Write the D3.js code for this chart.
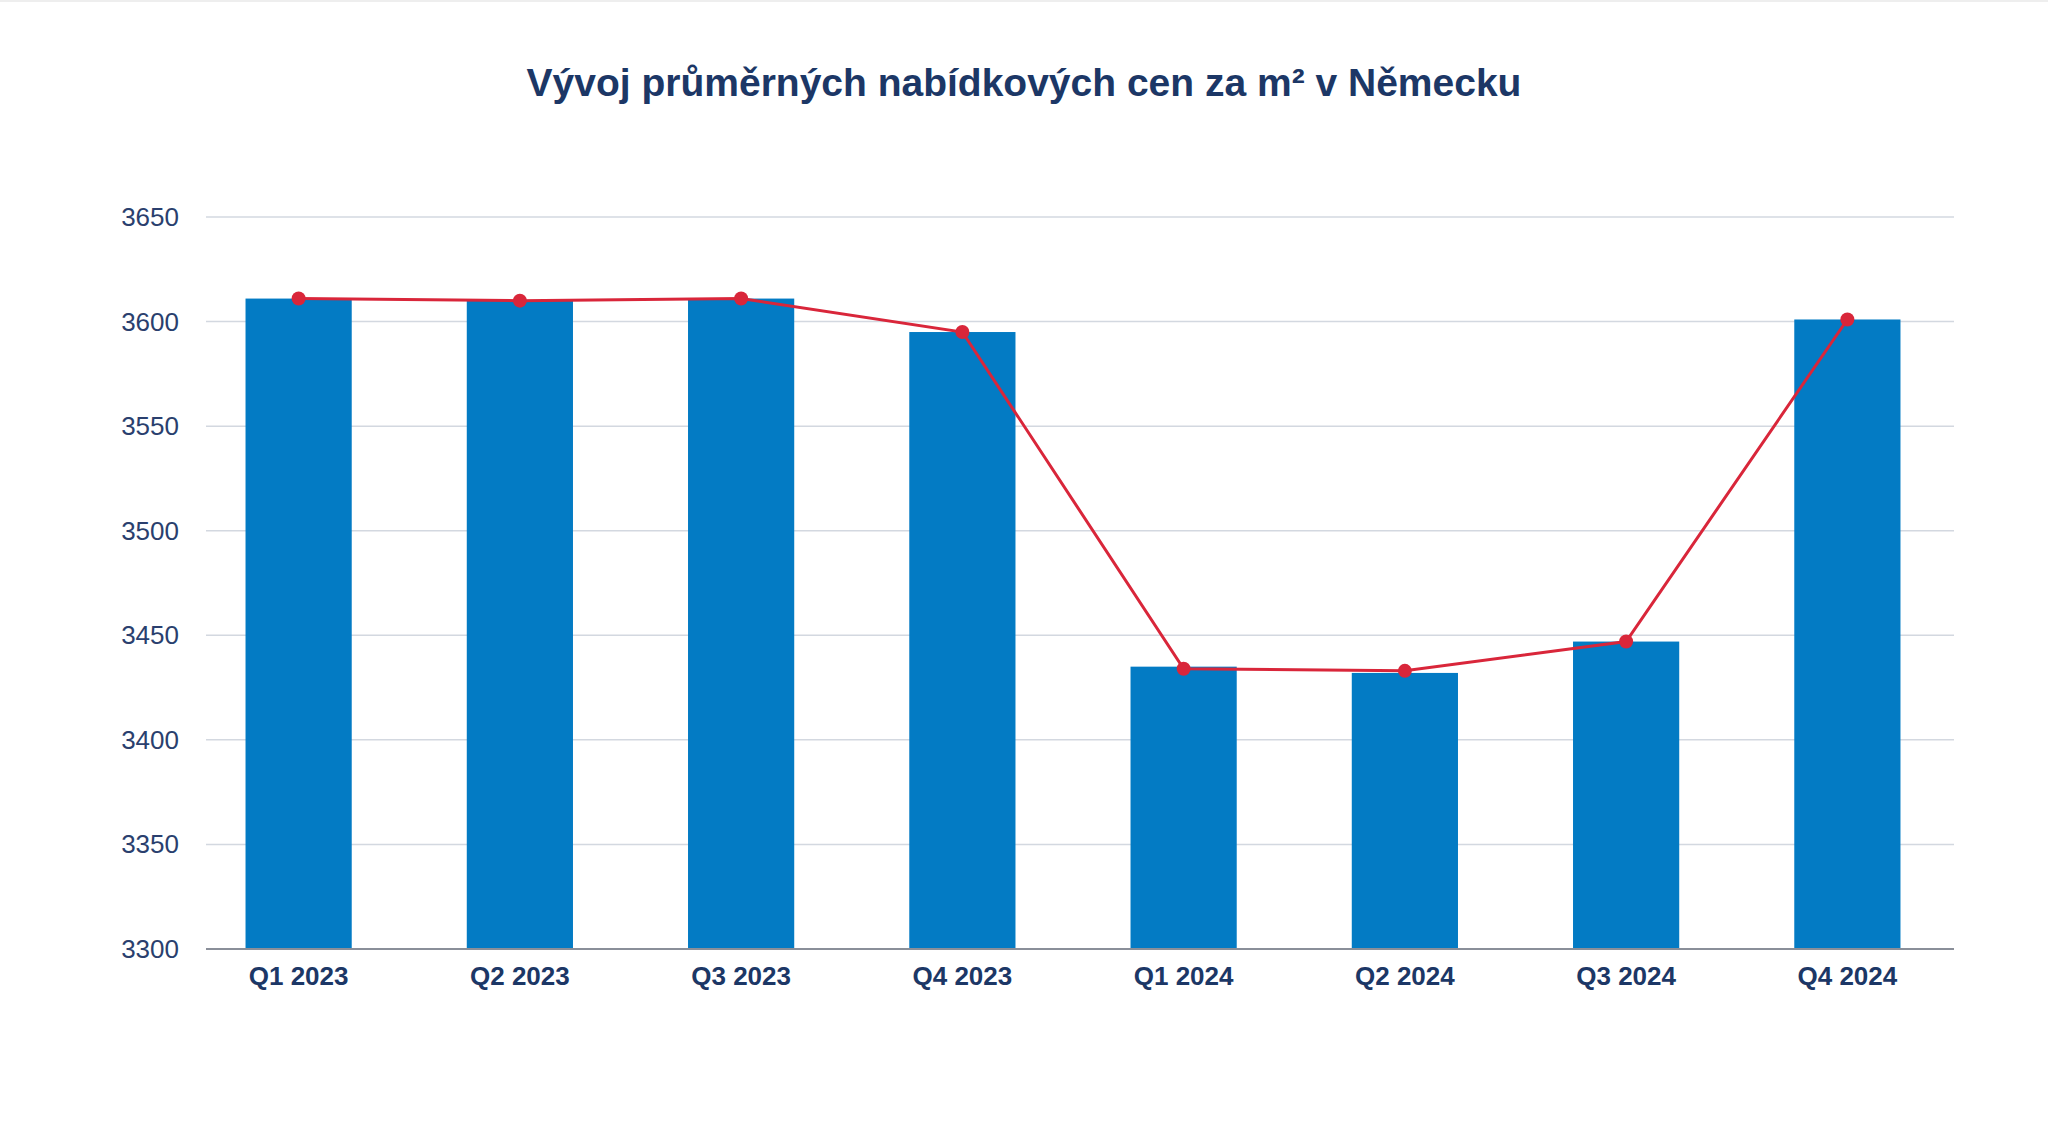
<!DOCTYPE html>
<html><head><meta charset="utf-8">
<script src="https://cdn.jsdelivr.net/npm/d3@7"></script>
<style>body{margin:0;background:#fff}svg{display:block}</style>
</head><body>
<svg id="c" width="2048" height="1144"></svg>
<script>
const categories=["Q1 2023","Q2 2023","Q3 2023","Q4 2023","Q1 2024","Q2 2024","Q3 2024","Q4 2024"];
const barValues=[3611,3610,3611,3595,3435,3432,3447,3601];
const lineValues=[3611,3610,3611,3595,3434,3433,3447,3601];
const yTicks=[3300,3350,3400,3450,3500,3550,3600,3650];
const title="Vývoj průměrných nabídkových cen za m² v Německu";

const svg=d3.select("#c");
const font="Helvetica, Arial, 'Liberation Sans', sans-serif";
svg.append("rect").attr("width",2048).attr("height",1144).attr("fill","#fff");
svg.append("line").attr("x1",0).attr("x2",2048).attr("y1",1).attr("y2",1).attr("stroke","#ddd");
const x=d3.scaleBand().domain(categories).range([188,1958]).paddingInner(0.52).paddingOuter(0.26);
const y=d3.scaleLinear().domain([3300,3650]).range([949,217]);
const gx0=206,gx1=1954;
svg.append("text").attr("x",1024).attr("y",96).attr("text-anchor","middle")
 .attr("font-family",font).attr("font-weight","bold").attr("font-size",39).attr("fill","#1c3766").text(title);
svg.selectAll(".g").data(yTicks.slice(1)).join("line").attr("x1",gx0).attr("x2",gx1)
 .attr("y1",d=>y(d)).attr("y2",d=>y(d)).attr("stroke","#d3d8e0").attr("stroke-width",1.5);
svg.selectAll(".yl").data(yTicks).join("text").attr("x",179).attr("y",d=>y(d)+9).attr("text-anchor","end")
 .attr("font-family",font).attr("font-size",26).attr("fill","#2a3f6e").text(d=>d);
svg.selectAll(".b").data(categories).join("rect").attr("x",d=>x(d)).attr("width",x.bandwidth())
 .attr("y",(d,i)=>y(barValues[i])).attr("height",(d,i)=>y(3300)-y(barValues[i])).attr("fill","#037bc4");
svg.append("line").attr("x1",gx0).attr("x2",gx1).attr("y1",y(3300)).attr("y2",y(3300)).attr("stroke","#8a8f99").attr("stroke-width",2);
const cx=d=>x(d)+x.bandwidth()/2;
svg.append("path").datum(categories).attr("fill","none").attr("stroke","#d9263a").attr("stroke-width",3)
 .attr("d",d3.line().x(d=>cx(d)).y((d,i)=>y(lineValues[i])));
svg.selectAll(".p").data(categories).join("circle").attr("cx",cx).attr("cy",(d,i)=>y(lineValues[i])).attr("r",7).attr("fill","#d9263a");
svg.selectAll(".xl").data(categories).join("text").attr("x",cx).attr("y",985).attr("text-anchor","middle")
 .attr("font-family",font).attr("font-weight","bold").attr("font-size",26).attr("fill","#1c3766").text(d=>d);
</script>
</body></html>
